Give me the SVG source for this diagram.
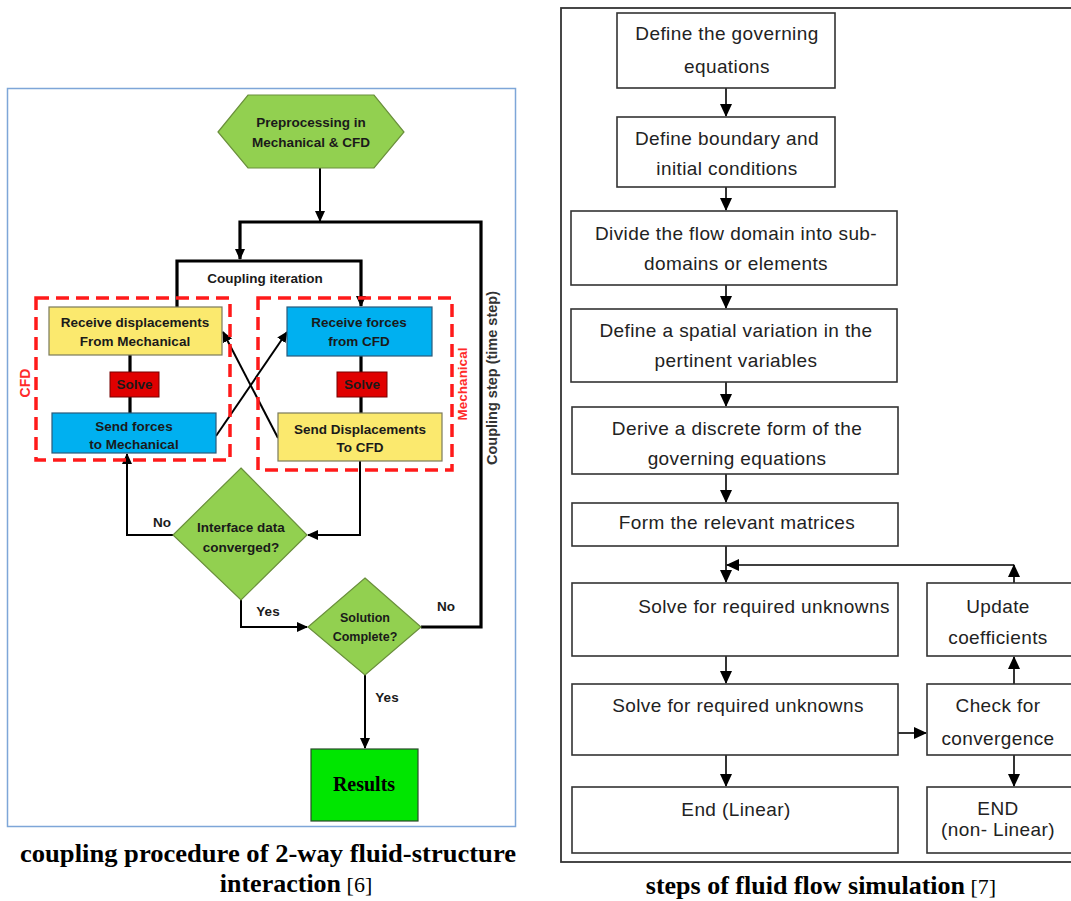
<svg xmlns="http://www.w3.org/2000/svg" width="1071" height="901" viewBox="0 0 1071 901">
<defs>
<marker id="ah" markerUnits="userSpaceOnUse" markerWidth="12" markerHeight="12" refX="10" refY="6" orient="auto"><path d="M0,1 L11,6 L0,11 Z" fill="#000"/></marker>
<marker id="ahr" markerUnits="userSpaceOnUse" markerWidth="14" markerHeight="14" refX="12" refY="7" orient="auto"><path d="M0,1 L13,7 L0,13 Z" fill="#000"/></marker>
<style>
.lt{font-family:"Liberation Sans",Arial,sans-serif;font-weight:bold;font-size:13.5px;fill:#1a1a1a;text-anchor:middle}
.rt{font-family:"Liberation Sans",Arial,sans-serif;font-size:19px;letter-spacing:0.4px;fill:#222;text-anchor:middle}
.cap{font-family:"Liberation Serif","Times New Roman",serif;font-weight:bold;fill:#000;text-anchor:middle}
.grn{fill:#92d050;stroke:#6a8f3c;stroke-width:1.2}
.yel{fill:#fbe96e;stroke:#7a7a5a;stroke-width:1.2}
.blu{fill:#00b0f0;stroke:#2a5a7a;stroke-width:1.2}
.red{fill:#e00000;stroke:#700;stroke-width:1}
.box{fill:#fff;stroke:#333;stroke-width:1.6}
.dash{fill:none;stroke:#ff1a1a;stroke-width:3.5;stroke-dasharray:13,7}
.c1{fill:none;stroke:#000;stroke-width:2}
.c3{fill:none;stroke:#000;stroke-width:3.2}
.cr{fill:none;stroke:#000;stroke-width:1.6}
</style>
</defs>
<rect width="1071" height="901" fill="#fff"/>
<!-- left panel frame -->
<rect x="7.5" y="88.5" width="508" height="738" fill="none" stroke="#7ea6d8" stroke-width="1.5"/>
<!-- right panel frame -->
<rect x="561" y="8" width="520" height="854" fill="none" stroke="#333" stroke-width="1.8"/>

<g id="connectors">
<line class="c1" x1="320" y1="168" x2="320" y2="221" marker-end="url(#ah)"/>
<path class="c3" d="M421,627 H481 V222 H240 V259" marker-end="url(#ah)"/>
<path class="c3" d="M177,307 V261 H361 V306" marker-end="url(#ah)"/>
<line class="c3" x1="130" y1="355" x2="130" y2="372"/>
<line class="c3" x1="130" y1="397" x2="130" y2="413"/>
<line class="c3" x1="361" y1="356" x2="361" y2="372"/>
<line class="c3" x1="361" y1="397" x2="361" y2="413"/>
<line class="c1" x1="216" y1="436" x2="287" y2="332" marker-end="url(#ah)"/>
<line class="c1" x1="278" y1="438" x2="223" y2="332" marker-end="url(#ah)"/>
<path class="c1" d="M360,461 V535 H308" marker-end="url(#ah)"/>
<path class="c1" d="M173,535 H127 V454" marker-end="url(#ah)"/>
<path class="c1" d="M241,600 V627 H307" marker-end="url(#ah)"/>
<line class="c1" x1="365" y1="675" x2="365" y2="748" marker-end="url(#ah)"/>
<!-- right -->
<line class="cr" x1="726" y1="88" x2="726" y2="116" marker-end="url(#ahr)"/>
<line class="cr" x1="726" y1="187" x2="726" y2="210" marker-end="url(#ahr)"/>
<line class="cr" x1="726" y1="285" x2="726" y2="308" marker-end="url(#ahr)"/>
<line class="cr" x1="726" y1="382" x2="726" y2="406" marker-end="url(#ahr)"/>
<line class="cr" x1="726" y1="474" x2="726" y2="502" marker-end="url(#ahr)"/>
<line class="cr" x1="726" y1="546" x2="726" y2="582" marker-end="url(#ahr)"/>
<path class="cr" d="M1014,583 V565" marker-end="url(#ahr)"/>
<path class="cr" d="M1014,565 H727" marker-end="url(#ahr)"/>
<line class="cr" x1="726" y1="656" x2="726" y2="683" marker-end="url(#ahr)"/>
<line class="cr" x1="898" y1="733" x2="926" y2="733" marker-end="url(#ahr)"/>
<line class="cr" x1="1014" y1="684" x2="1014" y2="657" marker-end="url(#ahr)"/>
<line class="cr" x1="726" y1="755" x2="726" y2="786" marker-end="url(#ahr)"/>
<line class="cr" x1="1014" y1="755" x2="1014" y2="786" marker-end="url(#ahr)"/>
</g>

<!-- dashed groups -->
<g id="cfd-group">
<rect class="dash" x="36" y="298" width="194" height="162"/>
<text class="lt" transform="translate(30,383) rotate(-90)" style="fill:#ff2a2a;font-size:14px">CFD</text>
</g>
<g id="mech-group">
<rect class="dash" x="258" y="298" width="194" height="172"/>
<text class="lt" transform="translate(467,384) rotate(-90)" style="fill:#ff2a2a">Mechanical</text>
</g>

<g id="preprocess">
<polygon class="grn" points="218,132 248,95 374,95 404,132 374,168 248,168"/>
<text class="lt" x="311" y="127">Preprocessing in</text>
<text class="lt" x="311" y="147">Mechanical &amp; CFD</text>
</g>
<g id="lbl-coupling-iter"><text class="lt" x="265" y="283">Coupling iteration</text></g>
<g id="lbl-coupling-step"><text class="lt" transform="translate(497,378) rotate(-90)" style="fill:#333;font-size:14.5px">Coupling step (time step)</text></g>

<g id="recv-disp">
<rect class="yel" x="49" y="307" width="173" height="48"/>
<text class="lt" x="135" y="327">Receive displacements</text>
<text class="lt" x="135" y="346">From Mechanical</text>
</g>
<g id="solve-l">
<rect class="red" x="110" y="372" width="49" height="25"/>
<text class="lt" x="134.5" y="389">Solve</text>
</g>
<g id="send-forces">
<rect class="blu" x="52" y="413" width="164" height="40"/>
<text class="lt" x="134" y="431">Send forces</text>
<text class="lt" x="134" y="449">to Mechanical</text>
</g>
<g id="recv-forces">
<rect class="blu" x="287" y="307" width="145" height="49"/>
<text class="lt" x="359" y="327">Receive forces</text>
<text class="lt" x="359" y="346">from CFD</text>
</g>
<g id="solve-r">
<rect class="red" x="337" y="372" width="50" height="25"/>
<text class="lt" x="362" y="389">Solve</text>
</g>
<g id="send-disp">
<rect class="yel" x="278" y="413" width="164" height="48"/>
<text class="lt" x="360" y="434">Send Displacements</text>
<text class="lt" x="360" y="452">To CFD</text>
</g>
<g id="interface">
<polygon class="grn" points="241,468 307,535 241,600 173,535"/>
<text class="lt" x="241" y="532">Interface data</text>
<text class="lt" x="241" y="552">converged?</text>
</g>
<g id="lbl-no1"><text class="lt" x="162" y="527">No</text></g>
<g id="lbl-yes1"><text class="lt" x="268" y="616">Yes</text></g>
<g id="solution">
<polygon class="grn" points="365,578 421,627 365,675 308,627"/>
<text class="lt" x="365" y="622" style="font-size:12.5px">Solution</text>
<text class="lt" x="365" y="641" style="font-size:12.5px">Complete?</text>
</g>
<g id="lbl-no2"><text class="lt" x="446" y="611">No</text></g>
<g id="lbl-yes2"><text class="lt" x="387" y="702">Yes</text></g>
<g id="results">
<rect x="311" y="749" width="107" height="72" fill="#00e600" stroke="#2a4a2a" stroke-width="1.2"/>
<text class="cap" x="364" y="791" font-size="20">Results</text>
</g>
<g id="caption-left">
<text class="cap" x="268" y="862" font-size="26" textLength="496" lengthAdjust="spacingAndGlyphs">coupling procedure of 2-way fluid-structure</text>
<text class="cap" x="296" y="892" font-size="26">interaction<tspan font-weight="normal" font-size="22"> [6]</tspan></text>
</g>

<!-- right flowchart -->
<g id="s1"><rect class="box" x="617" y="13" width="218" height="75"/>
<text class="rt" x="727" y="40">Define the governing</text><text class="rt" x="727" y="73">equations</text></g>
<g id="s2"><rect class="box" x="617" y="117" width="218" height="70"/>
<text class="rt" x="727" y="145">Define boundary and</text><text class="rt" x="727" y="175">initial conditions</text></g>
<g id="s3"><rect class="box" x="571" y="211" width="326" height="74"/>
<text class="rt" x="736" y="240">Divide the flow domain into sub-</text><text class="rt" x="736" y="270">domains or elements</text></g>
<g id="s4"><rect class="box" x="571" y="309" width="326" height="73"/>
<text class="rt" x="736" y="337">Define a spatial variation in the</text><text class="rt" x="736" y="367">pertinent variables</text></g>
<g id="s5"><rect class="box" x="572" y="407" width="326" height="67"/>
<text class="rt" x="737" y="435">Derive a discrete form of the</text><text class="rt" x="737" y="465">governing equations</text></g>
<g id="s6"><rect class="box" x="572" y="503" width="326" height="43"/>
<text class="rt" x="737" y="529">Form the relevant matrices</text></g>
<g id="s7"><rect class="box" x="572" y="583" width="326" height="73"/>
<text class="rt" x="764" y="613">Solve for required unknowns</text></g>
<g id="s8"><rect class="box" x="927" y="583" width="160" height="73"/>
<text class="rt" x="998" y="613">Update</text><text class="rt" x="998" y="644">coefficients</text></g>
<g id="s9"><rect class="box" x="572" y="684" width="326" height="71"/>
<text class="rt" x="738" y="712">Solve for required unknowns</text></g>
<g id="s10"><rect class="box" x="927" y="684" width="160" height="71"/>
<text class="rt" x="998" y="712">Check for</text><text class="rt" x="998" y="745">convergence</text></g>
<g id="s11"><rect class="box" x="572" y="787" width="326" height="66"/>
<text class="rt" x="736" y="816">End (Linear)</text></g>
<g id="s12"><rect class="box" x="927" y="787" width="160" height="66"/>
<text class="rt" x="998" y="815">END</text><text class="rt" x="998" y="836">(non- Linear)</text></g>
<g id="caption-right">
<text class="cap" x="821" y="894" font-size="26">steps of fluid flow simulation<tspan font-weight="normal" font-size="22"> [7]</tspan></text>
</g>
</svg>
